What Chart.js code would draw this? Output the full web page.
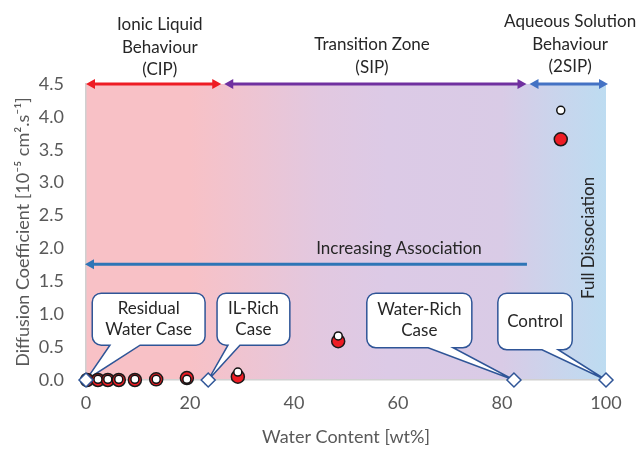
<!DOCTYPE html>
<html>
<head>
<meta charset="utf-8">
<script src="https://cdn.jsdelivr.net/npm/chart.js@4.4.1/dist/chart.umd.min.js"></script>
<style>
  html, body { margin: 0; padding: 0; background: #fff; }
</style>
</head>
<body>
<canvas id="chart" width="638" height="449"></canvas>
<script>
// measured samples: red filled circles and the small white ones drawn on top
const waterContent = [0.2, 2.3, 4.2, 6.3, 9.4, 13.5, 19.4, 29.2, 48.5, 91.3];
const diffusionRed = [0.00, 0.00, 0.00, 0.00, 0.00, 0.01, 0.03, 0.05, 0.59, 3.66];
const diffusionWhite = [0.01, 0.01, 0.01, 0.01, 0.01, 0.01, 0.01, 0.12, 0.67, 4.10];

// the four highlighted cases (diamonds)
const caseWater = [0, 23.5, 82.3, 100];
const caseDiff = [0, 0, 0, 0];
const caseLabels = [['Residual', 'Water Case'], ['IL-Rich', 'Case'], ['Water-Rich', 'Case'], ['Control']];

const xTicks = [0, 20, 40, 60, 80, 100];
const yTicks = [0, 0.5, 1.0, 1.5, 2.0, 2.5, 3.0, 3.5, 4.0, 4.5];

const zoneBounds = [0, 26.3, 85, 100];
const zoneLabels = [['Ionic Liquid', 'Behaviour', '(CIP)'], ['Transition Zone', '(SIP)'], ['Aqueous Solution', 'Behaviour', '(2SIP)']];

const FONT = 'Lato, "Liberation Sans", sans-serif';
const TEXT = '#262626';

Chart.defaults.font.family = FONT;
Chart.defaults.color = '#595959';

function arrow(ctx, x1, y, x2, color, headLeft, headRight) {
    const hl = 9, hw = 5;
    ctx.save();
    ctx.strokeStyle = color;
    ctx.fillStyle = color;
    ctx.lineWidth = 3;
    ctx.beginPath();
    ctx.moveTo(x1 + (headLeft ? hl - 1 : 0), y);
    ctx.lineTo(x2 - (headRight ? hl - 1 : 0), y);
    ctx.stroke();
    if (headLeft) {
        ctx.beginPath();
        ctx.moveTo(x1, y);
        ctx.lineTo(x1 + hl, y - hw);
        ctx.lineTo(x1 + hl, y + hw);
        ctx.closePath();
        ctx.fill();
    }
    if (headRight) {
        ctx.beginPath();
        ctx.moveTo(x2, y);
        ctx.lineTo(x2 - hl, y - hw);
        ctx.lineTo(x2 - hl, y + hw);
        ctx.closePath();
        ctx.fill();
    }
    ctx.restore();
}

function textLines(ctx, lines, x, yCenter, gap) {
    const start = yCenter - (lines.length - 1) * gap / 2;
    lines.forEach((t, i) => ctx.fillText(t, x, start + i * gap));
}

// callout boxes in data units; b1/b2 is where the tail leaves the box
const callouts = [
    { x1: 1.2, x2: 22.9, y1: 1.32, y2: 0.53, b1: 4.6, b2: 10.4 },
    { x1: 25.2, x2: 39.2, y1: 1.32, y2: 0.53, b1: 27.3, b2: 29.6 },
    { x1: 54.0, x2: 74.2, y1: 1.32, y2: 0.49, b1: 65.8, b2: 70.6 },
    { x1: 79.2, x2: 93.5, y1: 1.32, y2: 0.46, b1: 87.7, b2: 90.8 }
];

const decor = {
    id: 'decor',
    beforeDraw(chart) {
        const { ctx, chartArea: a } = chart;
        const g = ctx.createLinearGradient(a.left, 0, a.right, 0);
        g.addColorStop(0, '#f8c1c6');
        g.addColorStop(0.2, '#f8c1c6');
        g.addColorStop(0.45, '#e2c8e0');
        g.addColorStop(0.58, '#dccae6');
        g.addColorStop(0.8, '#d9cbe6');
        g.addColorStop(0.9, '#cad4ec');
        g.addColorStop(1, '#bddcf1');
        ctx.save();
        ctx.fillStyle = g;
        ctx.fillRect(a.left, a.top, a.right - a.left, a.bottom - a.top);
        ctx.restore();
    },
    beforeDatasetsDraw(chart) {
        const { ctx, scales: { x, y } } = chart;
        ctx.save();
        callouts.forEach((c, i) => {
            const l = x.getPixelForValue(c.x1), r = x.getPixelForValue(c.x2);
            const t = y.getPixelForValue(c.y1), b = y.getPixelForValue(c.y2);
            const ba = x.getPixelForValue(c.b1), bb = x.getPixelForValue(c.b2);
            const tx = x.getPixelForValue(caseWater[i]), ty = y.getPixelForValue(caseDiff[i]);
            const rad = 9;
            ctx.beginPath();
            ctx.moveTo(l + rad, t);
            ctx.lineTo(r - rad, t);
            ctx.arcTo(r, t, r, t + rad, rad);
            ctx.lineTo(r, b - rad);
            ctx.arcTo(r, b, r - rad, b, rad);
            ctx.lineTo(bb, b);
            ctx.lineTo(tx, ty);
            ctx.lineTo(ba, b);
            ctx.lineTo(l + rad, b);
            ctx.arcTo(l, b, l, b - rad, rad);
            ctx.lineTo(l, t + rad);
            ctx.arcTo(l, t, l + rad, t, rad);
            ctx.closePath();
            ctx.fillStyle = '#fff';
            ctx.fill();
            ctx.strokeStyle = '#2f5597';
            ctx.lineWidth = 1.5;
            ctx.stroke();
            ctx.fillStyle = TEXT;
            ctx.font = '17px ' + FONT;
            ctx.textAlign = 'center';
            ctx.textBaseline = 'middle';
            textLines(ctx, caseLabels[i], (l + r) / 2, (t + b) / 2, 21);
        });
        ctx.restore();
    },
    afterDraw(chart) {
        const { ctx, chartArea: a, scales: { x, y } } = chart;
        ctx.save();
        // zone arrows along the top edge
        const zoneColors = ['#ee1c24', '#7030a0', '#4472c4'];
        for (let i = 0; i < 3; i++) {
            const x1 = x.getPixelForValue(zoneBounds[i]) + (i ? 1.5 : 0);
            const x2 = x.getPixelForValue(zoneBounds[i + 1]) - (i < 2 ? 1.5 : -2);
            arrow(ctx, x1, a.top, x2, zoneColors[i], true, true);
        }
        ctx.fillStyle = TEXT;
        ctx.font = '17px ' + FONT;
        ctx.textAlign = 'center';
        ctx.textBaseline = 'middle';
        const zoneCenters = [14.2, 55, 93.1];
        const zoneTops = [59, 39, 62];
        zoneLabels.forEach((lines, i) => {
            lines.forEach((t, j) => ctx.fillText(t, x.getPixelForValue(zoneCenters[i]), a.top - zoneTops[i] + j * 22.5));
        });

        // increasing association
        const ay = y.getPixelForValue(1.76);
        arrow(ctx, x.getPixelForValue(0) - 1, ay, x.getPixelForValue(84.8), '#2e75b6', true, false);
        ctx.fillText('Increasing Association', x.getPixelForValue(60.2), y.getPixelForValue(2.0));

        // full dissociation, rotated
        ctx.translate(x.getPixelForValue(96.6), y.getPixelForValue(2.16));
        ctx.rotate(-Math.PI / 2);
        ctx.fillText('Full Dissociation', 0, 0);
        ctx.restore();
    }
};

new Chart(document.getElementById('chart'), {
    type: 'scatter',
    data: {
        datasets: [
            {
                label: 'Cases',
                data: caseWater.map((v, i) => ({ x: v, y: caseDiff[i] })),
                pointStyle: 'rectRot',
                pointRadius: 7,
                backgroundColor: '#fff',
                borderColor: '#2f5597',
                borderWidth: 1.5,
                clip: false
            },
            {
                label: 'White',
                data: waterContent.map((v, i) => ({ x: v, y: diffusionWhite[i] })),
                pointRadius: 4,
                backgroundColor: '#fff',
                borderColor: '#111',
                borderWidth: 1.5,
                clip: false
            },
            {
                label: 'Red',
                data: waterContent.map((v, i) => ({ x: v, y: diffusionRed[i] })),
                pointRadius: 6.5,
                backgroundColor: '#ee1c24',
                borderColor: '#1a1a1a',
                borderWidth: 1.5,
                clip: false
            }
        ]
    },
    options: {
        responsive: false,
        animation: false,
        devicePixelRatio: 1,
        layout: { padding: { top: 84, right: 32, left: 0, bottom: 0 } },
        plugins: { legend: { display: false }, tooltip: { enabled: false } },
        scales: {
            x: {
                type: 'linear',
                min: 0,
                max: 100,
                grid: { display: false, drawTicks: false },
                border: { display: true, color: '#d0d0d0', width: 1.5 },
                ticks: { font: { size: 18 }, padding: 12 },
                afterBuildTicks: s => { s.ticks = xTicks.map(v => ({ value: v })); },
                afterFit: s => { s.height = 69; },
                title: {
                    display: true,
                    text: 'Water Content [wt%]',
                    font: { size: 18 },
                    padding: { top: 0, bottom: 1 }
                }
            },
            y: {
                type: 'linear',
                min: 0,
                max: 4.5,
                grid: { display: false, drawTicks: false },
                border: { display: true, color: '#d0d0d0', width: 1.5 },
                ticks: { font: { size: 18 }, padding: 22, callback: v => v.toFixed(1) },
                afterBuildTicks: s => { s.ticks = yTicks.map(v => ({ value: v })); },
                afterFit: s => { s.width = 86; },
                title: {
                    display: true,
                    text: 'Diffusion Coefficient [10⁻⁵ cm².s⁻¹]',
                    font: { size: 18 },
                    padding: { top: 12, bottom: 0 }
                }
            }
        }
    },
    plugins: [decor]
});
</script>
</body>
</html>
